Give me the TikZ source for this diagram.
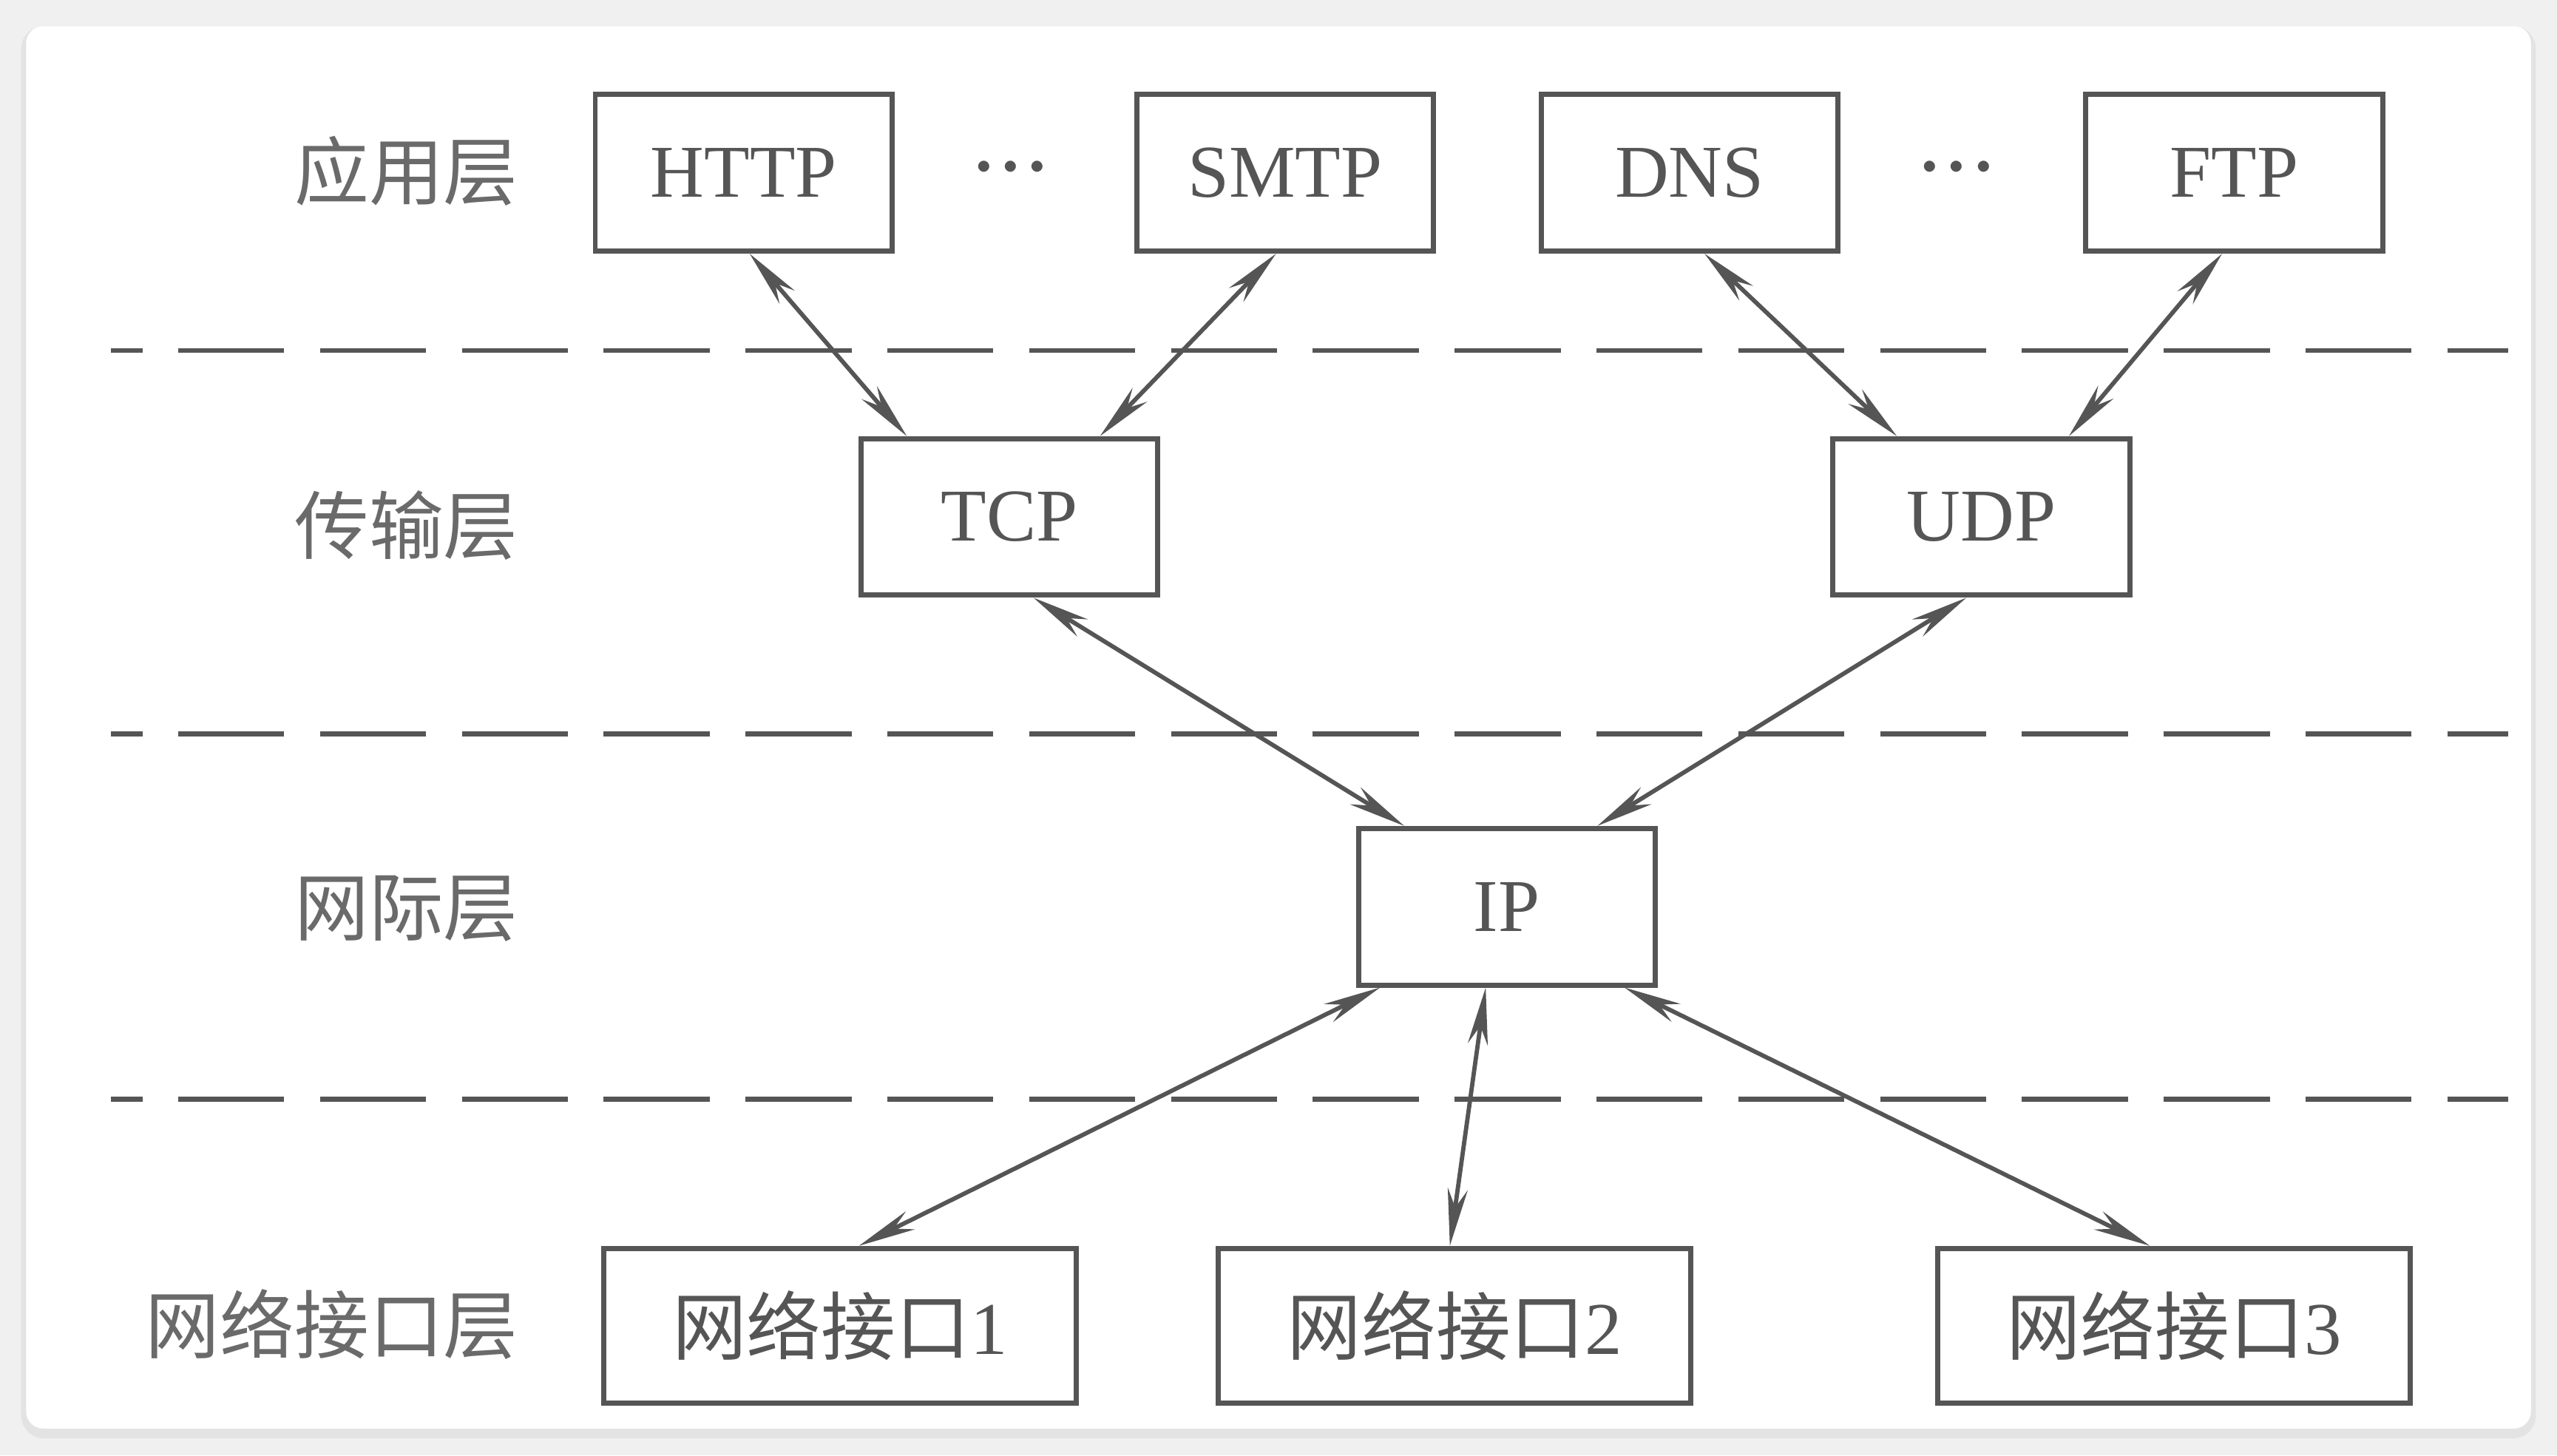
\documentclass[tikz,border=0pt]{standalone}
\usepackage{amsmath}
\usepackage{fontspec}
\setmainfont{Liberation Serif}
\newfontfamily\cjk{Noto Sans CJK SC}
\usetikzlibrary{arrows.meta,calc}
\definecolor{ink}{HTML}{555555}
\definecolor{softink}{HTML}{6A6A6A}
\tikzset{
  box/.style={draw=ink,line width=1.8pt,minimum width=3.64cm,minimum height=1.92cm,inner sep=0pt,text=ink,font=\fontsize{26}{30}\selectfont},
  widebox/.style={box,minimum width=5.8cm,minimum height=1.9cm},
  layer/.style={anchor=east,text=softink,inner sep=0pt,font=\fontsize{26}{30}\selectfont\cjk},
  ellip/.style={text=ink,inner sep=0pt,font=\fontsize{26}{30}\selectfont},
  link/.style={draw=ink,line width=1.5pt,{Stealth[length=20pt,width=7pt]}-{Stealth[length=20pt,width=7pt]}},
  divider/.style={draw=ink,line width=1.7pt,dash pattern=on 37pt off 12.5pt,dash phase=26pt}
}
\begin{document}
\begin{tikzpicture}[x=0.02cm,y=-0.02cm]
\useasboundingbox (0,0) rectangle (1568,892.4);
\fill[gray!12] (0,0) rectangle (1568,892.4);
\fill[gray!22,rounded corners=8pt] (13,16) rectangle (1555,882);
\fill[white,rounded corners=6pt] (16,16) rectangle (1552,876);
\draw[divider] (68,215)--(1538,215);
\draw[divider] (68,450)--(1538,450);
\draw[divider] (68,674)--(1538,674);
\node[layer] (lapp) at (318,105) {应用层};
\node[layer] (ltrans) at (318,322) {传输层};
\node[layer] (linet) at (318,557) {网际层};
\node[layer] (lnif) at (318,812) {网络接口层};
\node[box] (http) at (456,106) {HTTP};
\node[ellip] (dots1) at (620,103) {$\boldsymbol{\cdot}\!\boldsymbol{\cdot}\!\boldsymbol{\cdot}$};
\node[box] (smtp) at (788,106) {SMTP};
\node[box] (dns) at (1036,106) {DNS};
\node[ellip] (dots2) at (1200,103) {$\boldsymbol{\cdot}\!\boldsymbol{\cdot}\!\boldsymbol{\cdot}$};
\node[box] (ftp) at (1370,106) {FTP};
\node[box] (tcp) at (619,317) {TCP};
\node[box] (udp) at (1215,317) {UDP};
\node[box] (ip) at (924,556) {IP};
\node[widebox] (nif1) at (515,813) {{\cjk 网络接口}1};
\node[widebox] (nif2) at (892,813) {{\cjk 网络接口}2};
\node[widebox] (nif3) at (1333,813) {{\cjk 网络接口}3};
\draw[link] ($(http.south west)!0.52!(http.south east)$)--($(tcp.north west)!0.16!(tcp.north east)$);
\draw[link] ($(smtp.south west)!0.47!(smtp.south east)$)--($(tcp.north west)!0.80!(tcp.north east)$);
\draw[link] ($(dns.south west)!0.55!(dns.south east)$)--($(udp.north west)!0.22!(udp.north east)$);
\draw[link] ($(ftp.south west)!0.46!(ftp.south east)$)--($(udp.north west)!0.79!(udp.north east)$);
\draw[link] ($(tcp.south west)!0.58!(tcp.south east)$)--($(ip.north west)!0.16!(ip.north east)$);
\draw[link] ($(udp.south west)!0.45!(udp.south east)$)--($(ip.north west)!0.80!(ip.north east)$);
\draw[link] ($(ip.south west)!0.08!(ip.south east)$)--($(nif1.north west)!0.54!(nif1.north east)$);
\draw[link] ($(ip.south west)!0.43!(ip.south east)$)--($(nif2.north west)!0.49!(nif2.north east)$);
\draw[link] ($(ip.south west)!0.89!(ip.south east)$)--($(nif3.north west)!0.45!(nif3.north east)$);
\end{tikzpicture}
\end{document}
